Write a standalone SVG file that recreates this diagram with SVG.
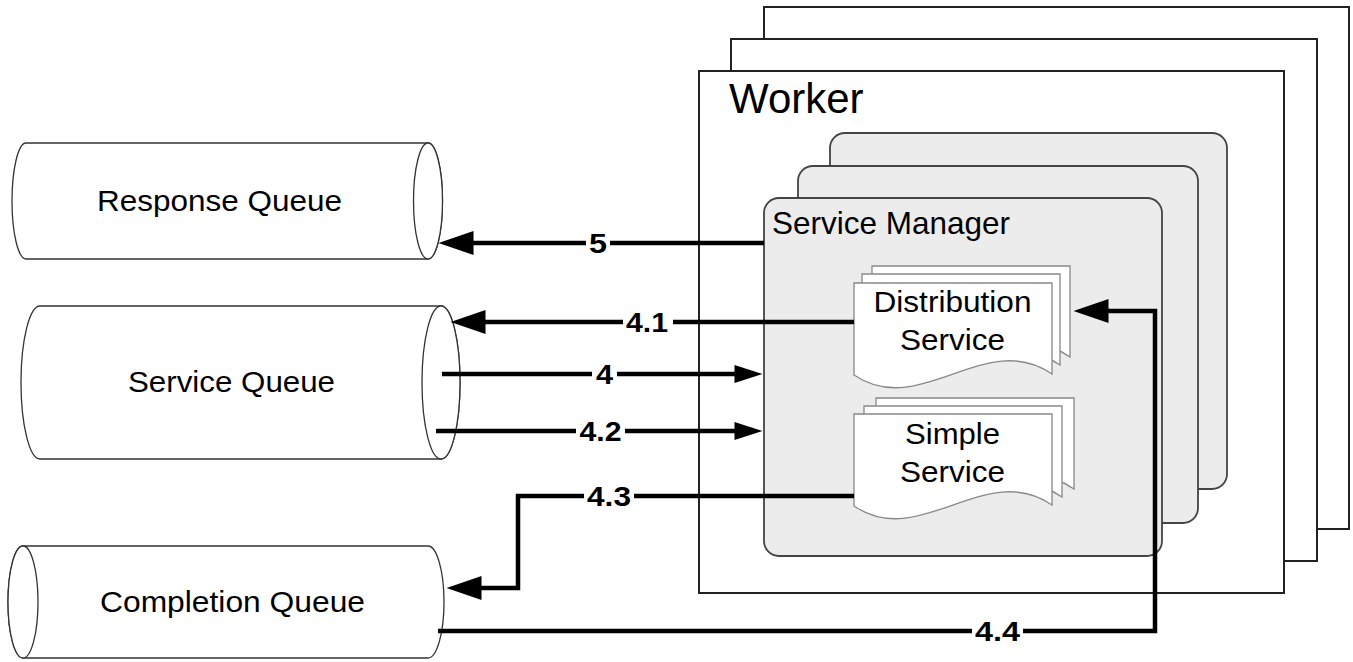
<svg xmlns="http://www.w3.org/2000/svg" xmlns:xlink="http://www.w3.org/1999/xlink" width="1353" height="662" viewBox="0 0 1353 662">
<style>
.frame{fill:#fff;stroke:#222;stroke-width:2}
.sm{fill:#ececec;stroke:#444;stroke-width:1.8}
.cyl{fill:#fff;stroke:#333;stroke-width:1.3}
.t{font-family:"Liberation Sans",Arial,sans-serif;fill:#000}
.lbl{font-family:"Liberation Sans",Arial,sans-serif;font-weight:bold;font-size:28px;fill:#000;text-anchor:middle}
.conn{fill:none;stroke:#000;stroke-width:4.5;stroke-linejoin:miter}
.big{marker-end:url(#ah)}
.small{marker-end:url(#ahs)}
.bg{fill:#fff}
</style>
<defs>
<marker id="ah" markerUnits="userSpaceOnUse" markerWidth="36" markerHeight="24" viewBox="0 0 35 24" refX="0.5" refY="12" orient="auto"><path d="M0,0 L35,12 L0,24 Z" fill="#000"/></marker>
<marker id="ahs" markerUnits="userSpaceOnUse" markerWidth="29" markerHeight="18" viewBox="0 0 28 18" refX="0.5" refY="9" orient="auto"><path d="M0,0 L28,9 L0,18 Z" fill="#000"/></marker>
<path id="doc" d="M0,0 H198 V91 C131,45 66,137 0,92 Z" fill="#fff" stroke="#888" stroke-width="1.3"/>
</defs>

<g id="response-queue">
<path class="cyl" d="M26,143 H428 A14.5,58 0 0 1 428,259 H26 A14,58 0 0 1 26,143 Z"/>
<ellipse class="cyl" cx="428" cy="201" rx="14.5" ry="58"/>
<text class="t" x="219.5" y="211" font-size="30" text-anchor="middle" textLength="245" lengthAdjust="spacingAndGlyphs">Response Queue</text>
</g>

<g id="service-queue">
<path class="cyl" d="M40,306 H441 A19,76.5 0 0 1 441,459 H40 A19,76.5 0 0 1 40,306 Z"/>
<ellipse class="cyl" cx="441" cy="382.5" rx="19" ry="76.5"/>
<text class="t" x="231.5" y="392" font-size="30" text-anchor="middle" textLength="207" lengthAdjust="spacingAndGlyphs">Service Queue</text>
</g>

<g id="completion-queue">
<path class="cyl" d="M23,546 H428 A16,56 0 0 1 428,658 H23 A15,56 0 0 1 23,546 Z"/>
<ellipse class="cyl" cx="23" cy="602" rx="15" ry="56"/>
<text class="t" x="232.5" y="612" font-size="30" text-anchor="middle" textLength="265" lengthAdjust="spacingAndGlyphs">Completion Queue</text>
</g>

<g id="worker">
<rect class="frame" x="764" y="7" width="585" height="522"/>
<rect class="frame" x="731" y="39" width="586" height="522"/>
<rect class="frame" x="699" y="71" width="585" height="522"/>
<text class="t" x="729" y="113" font-size="42">Worker</text>
</g>

<g id="service-manager">
<rect class="sm" x="830" y="133" width="397" height="356" rx="15"/>
<rect class="sm" x="798" y="166" width="400" height="357" rx="15"/>
<rect class="sm" x="764" y="198" width="398" height="358" rx="15"/>
<text class="t" x="772" y="234" font-size="31.5">Service Manager</text>
</g>

<g id="distribution-service">
<use xlink:href="#doc" href="#doc" x="872" y="266"/>
<use xlink:href="#doc" href="#doc" x="862" y="274"/>
<use xlink:href="#doc" href="#doc" x="854" y="283"/>
<text class="t" x="952.5" y="312" font-size="30" text-anchor="middle" textLength="158" lengthAdjust="spacingAndGlyphs">Distribution</text>
<text class="t" x="952.5" y="350" font-size="30" text-anchor="middle" textLength="105" lengthAdjust="spacingAndGlyphs">Service</text>
</g>

<g id="simple-service">
<use xlink:href="#doc" href="#doc" x="876" y="398"/>
<use xlink:href="#doc" href="#doc" x="864" y="406"/>
<use xlink:href="#doc" href="#doc" x="854" y="414"/>
<text class="t" x="952.5" y="444" font-size="30" text-anchor="middle" textLength="95" lengthAdjust="spacingAndGlyphs">Simple</text>
<text class="t" x="952.5" y="482" font-size="30" text-anchor="middle" textLength="105" lengthAdjust="spacingAndGlyphs">Service</text>
</g>

<g id="connectors">
<path class="conn big" d="M764,243 H473"/>
<path class="conn big" d="M854,322 H485"/>
<path class="conn small" d="M442,374 H735"/>
<path class="conn small" d="M436,431 H735"/>
<path class="conn big" d="M854,496 H518 V588 H481"/>
<path class="conn big" d="M438,631 H1155 V311 H1108"/>
<rect class="bg" x="586" y="230" width="24" height="26"/>
<text class="lbl" x="598" y="253" textLength="18" lengthAdjust="spacingAndGlyphs">5</text>
<rect class="bg" x="623" y="309" width="50" height="26"/>
<text class="lbl" x="647" y="332" textLength="42" lengthAdjust="spacingAndGlyphs">4.1</text>
<rect class="bg" x="592" y="361" width="25" height="26"/>
<text class="lbl" x="604.5" y="384" textLength="17" lengthAdjust="spacingAndGlyphs">4</text>
<rect class="bg" x="576" y="418" width="49" height="26"/>
<text class="lbl" x="600.5" y="441" textLength="42" lengthAdjust="spacingAndGlyphs">4.2</text>
<rect class="bg" x="584" y="483" width="50" height="26"/>
<text class="lbl" x="609" y="506" textLength="44" lengthAdjust="spacingAndGlyphs">4.3</text>
<rect class="bg" x="972" y="618" width="51" height="26"/>
<text class="lbl" x="997.5" y="641" textLength="45" lengthAdjust="spacingAndGlyphs">4.4</text>
</g>
</svg>
